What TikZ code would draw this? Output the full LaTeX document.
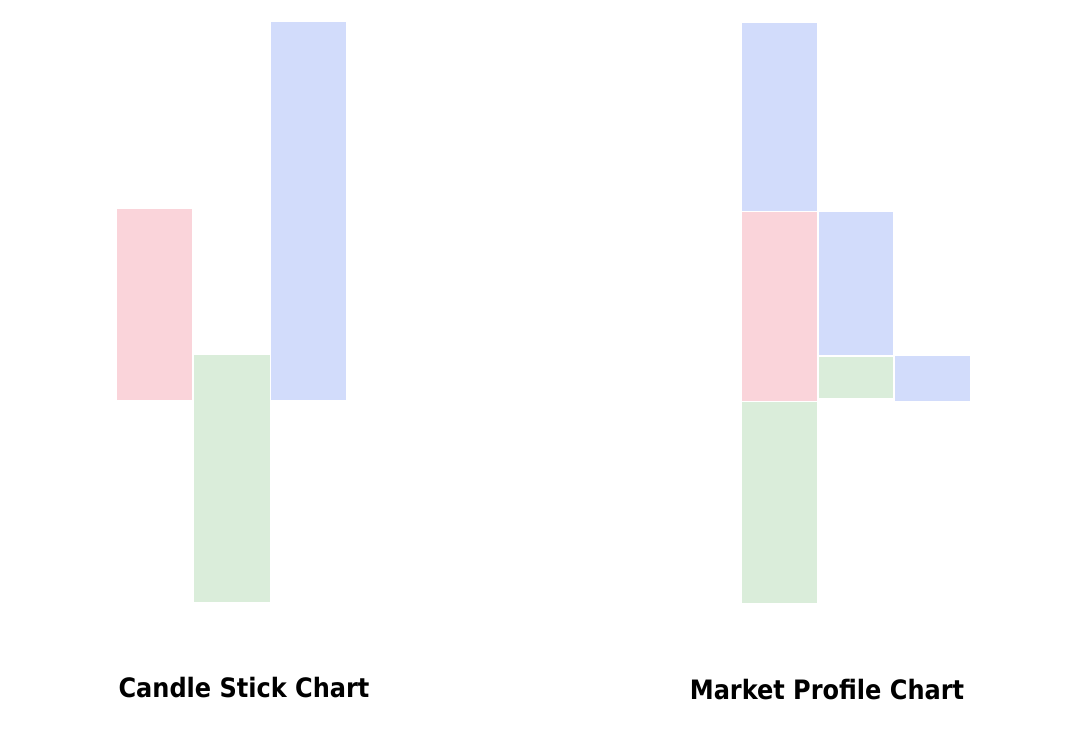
\documentclass[tikz,border=0pt]{standalone}
\usepackage{fontspec}
\setmainfont{DejaVu Sans Condensed}
\tikzset{
  bar/.style={inner sep=0pt, outer sep=0pt, anchor=north west},
  pinkbar/.style={bar, fill=barpink},
  greenbar/.style={bar, fill=bargreen},
  bluebar/.style={bar, fill=barblue},
  title/.style={font=\bfseries\fontsize{15.2}{18}\selectfont, anchor=center}
}
\definecolor{barpink}{HTML}{FAD4DA}
\definecolor{bargreen}{HTML}{DAEDDA}
\definecolor{barblue}{HTML}{D2DCFB}
\begin{document}
\begin{tikzpicture}[x=0.02cm, y=-0.02cm]
\useasboundingbox (0,0) rectangle (1087,752);

% candle stick
\node[pinkbar, minimum width=75*0.02cm, minimum height=191*0.02cm] (cpink) at (117,209) {};
\node[greenbar, minimum width=76*0.02cm, minimum height=247*0.02cm] (cgreen) at (194,355) {};
\node[bluebar, minimum width=75*0.02cm, minimum height=378*0.02cm] (cblue) at (271,22) {};

% market profile
\node[bluebar, minimum width=75*0.02cm, minimum height=188*0.02cm] (mblue) at (742,23) {};
\node[pinkbar, minimum width=75*0.02cm, minimum height=189*0.02cm] (mpink) at (742,212) {};
\node[greenbar, minimum width=75*0.02cm, minimum height=201*0.02cm] (mgreen) at (742,402) {};
\node[bluebar, minimum width=74*0.02cm, minimum height=143*0.02cm] (mblueb) at (819,212) {};
\node[greenbar, minimum width=74*0.02cm, minimum height=41*0.02cm] (mgreenb) at (819,357) {};
\node[bluebar, minimum width=75*0.02cm, minimum height=45*0.02cm] (mbluec) at (895,356) {};

\node[title] (ctitle) at (244,688) {Candle Stick Chart};
\node[title] (mtitle) at (827,690) {Market Profile Chart};

\end{tikzpicture}
\end{document}
